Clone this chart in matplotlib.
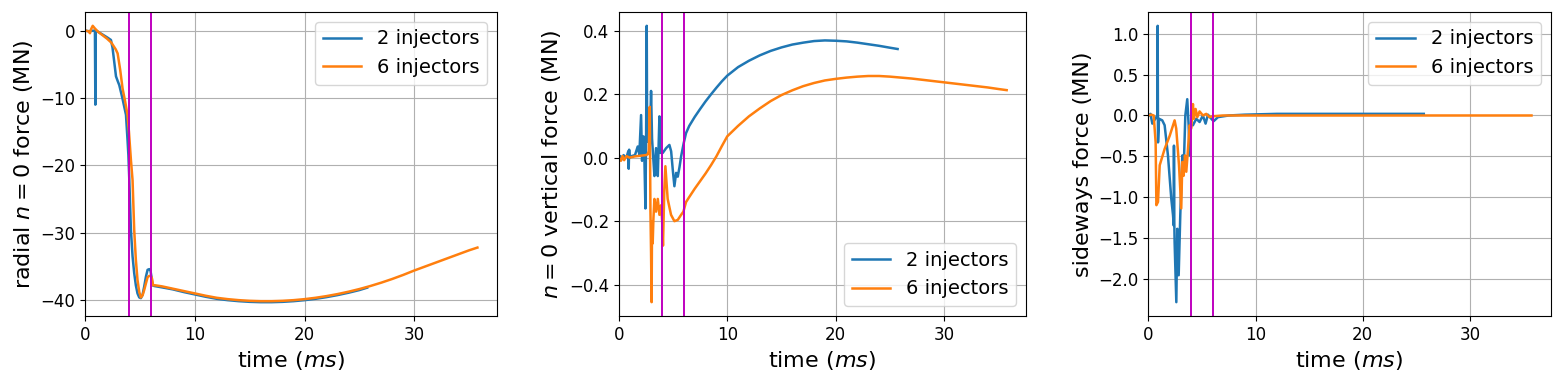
import numpy as np
import matplotlib
matplotlib.use("Agg")
import matplotlib.pyplot as plt
from matplotlib.ticker import MultipleLocator

# Values (time in ms, force in MN)

# radial n=0 force
t_rad_2 = [0, 0.3, 0.6, 0.9, 0.94, 0.98, 1.2, 1.6, 2.0, 2.36, 2.5, 2.65, 2.82, 3.0,
           3.12, 3.4, 3.73, 3.87, 3.95, 4.03, 4.18, 4.33, 4.48, 4.63, 4.78, 4.94,
           5.09, 5.24, 5.39, 5.55, 5.7, 5.85, 5.95, 6.05, 6.15, 6.3, 7, 8, 9, 10,
           11, 12, 13, 14, 15, 16, 17, 18, 19, 20, 21, 22, 23, 24, 25, 25.7]
f_rad_2 = [0, -0.1, -0.05, 0, -11.0, 0, -0.2, -0.6, -1.0, -1.4, -2.5, -4.5, -6.8,
           -7.6, -8.1, -10, -12.5, -16.2, -18.5, -22, -29.6, -33.5, -36, -37.8, -39,
           -39.6, -39.7, -39.2, -38, -36.5, -35.5, -35.4, -35.5, -36.5, -37.8,
           -37.9, -38.1, -38.4, -38.8, -39.15, -39.5, -39.8, -40.0, -40.15, -40.25,
           -40.3, -40.3, -40.25, -40.15, -40.0, -39.8, -39.55, -39.25, -38.9,
           -38.5, -38.15]
t_rad_6 = [0, 0.3, 0.45, 0.55, 0.7, 0.9, 1.2, 1.6, 2.0, 2.4, 2.8, 2.97, 3.2, 3.42,
           3.65, 3.87, 4.0, 4.18, 4.33, 4.48, 4.63, 4.78, 4.94, 5.09, 5.24, 5.39,
           5.55, 5.7, 5.85, 6.0, 6.1, 6.2, 6.4, 7, 8, 9, 10, 11, 12, 13, 14, 15,
           16, 17, 18, 19, 20, 21, 22, 23, 24, 25, 26, 27, 28, 29, 30, 31, 32, 33,
           34, 35, 35.75]
f_rad_6 = [0, -0.1, -0.4, 0.2, 0.7, 0.3, -0.2, -0.7, -1.2, -1.8, -2.8, -3.4, -5.8,
           -8.6, -10.5, -12.5, -15, -19.2, -22.2, -29.6, -34, -37, -38.8, -39.6,
           -39.3, -38.5, -37.5, -36.6, -36.4, -36.4, -36.8, -37.8, -37.8, -37.95,
           -38.3, -38.65, -39.0, -39.35, -39.65, -39.85, -40.0, -40.1, -40.15,
           -40.15, -40.1, -40.0, -39.85, -39.65, -39.4, -39.1, -38.75, -38.35,
           -37.9, -37.4, -36.85, -36.25, -35.6, -35.0, -34.4, -33.8, -33.2, -32.6,
           -32.2]

# n=0 vertical force
t_ver_2 = [0, 0.15, 0.3, 0.45, 0.6, 0.75, 0.88, 0.92, 0.96, 1.0, 1.2, 1.5, 1.75,
           1.9, 2.06, 2.15, 2.28, 2.37, 2.46, 2.52, 2.58, 2.62, 2.67, 2.77, 2.85,
           2.98, 3.07, 3.18, 3.29, 3.44, 3.6, 3.75, 3.85, 4.06, 4.37, 4.67, 4.83,
           4.98, 5.13, 5.29, 5.44, 5.6, 5.75, 5.99, 6.2, 6.5, 7.0, 7.5, 8.0, 8.5,
           9.0, 9.5, 10, 11, 12, 13, 14, 15, 16, 17, 18, 19, 20, 21, 22, 23, 24,
           25, 25.7]
f_ver_2 = [0, 0.005, -0.005, 0.008, 0, 0.005, 0.02, -0.035, 0.025, 0.0, 0.005,
           0.008, 0.035, 0.01, 0.134, -0.01, 0.067, -0.01, -0.16, 0.05, 0.415, 0.05,
           0.05, 0.13, 0.02, 0.21, 0.06, 0.0, -0.058, 0.03, -0.058, 0.13, 0.015,
           0.015, 0.03, 0.04, 0.02, -0.038, -0.09, -0.048, -0.06, -0.03, 0.004,
           0.046, 0.077, 0.1, 0.128, 0.153, 0.177, 0.199, 0.22, 0.24, 0.258, 0.285,
           0.305, 0.322, 0.336, 0.347, 0.356, 0.362, 0.367, 0.369, 0.368, 0.366,
           0.362, 0.357, 0.352, 0.346, 0.342]
t_ver_6 = [0, 0.2, 0.35, 0.5, 0.7, 1.0, 1.5, 2.0, 2.5, 2.65, 2.77, 2.86, 2.92,
           2.98, 3.03, 3.07, 3.13, 3.2, 3.29, 3.44, 3.6, 3.75, 3.9, 4.0, 4.08, 4.2,
           4.3, 4.51, 4.82, 5.13, 5.44, 5.75, 5.96, 6.2, 6.5, 7.0, 7.5, 8.0, 8.5,
           9.0, 9.5, 10, 11, 12, 13, 14, 15, 16, 17, 18, 19, 20, 21, 22, 23, 24,
           25, 26, 27, 28, 29, 30, 31, 32, 33, 34, 35, 35.75]
f_ver_6 = [0, -0.01, 0.005, -0.008, 0.005, 0.0, 0.004, 0.006, 0.008, 0.01, 0.02,
           0.16, -0.16, -0.3, -0.455, -0.2, -0.27, -0.19, -0.13, -0.17, -0.13,
           -0.18, -0.15, -0.2, -0.277, -0.1, -0.027, -0.13, -0.18, -0.2, -0.196,
           -0.18, -0.17, -0.14, -0.124, -0.098, -0.074, -0.05, -0.024, 0.004,
           0.036, 0.067, 0.1, 0.13, 0.155, 0.178, 0.197, 0.212, 0.225, 0.235,
           0.243, 0.248, 0.252, 0.255, 0.257, 0.257, 0.255, 0.252, 0.249, 0.245,
           0.241, 0.237, 0.233, 0.229, 0.225, 0.221, 0.216, 0.2125]

# sideways force
t_side_2 = [0, 0.06, 0.2, 0.37, 0.6, 0.84, 0.87, 0.9, 1.0, 1.3, 1.52, 1.83, 2.14,
            2.3, 2.37, 2.39, 2.42, 2.45, 2.61, 2.7, 2.83, 2.98, 3.17, 3.29, 3.45,
            3.63, 3.76, 3.85, 3.94, 4.16, 4.47, 4.78, 5.09, 5.34, 5.56, 5.87, 6.09,
            6.5, 7.5, 9, 12, 15, 20, 25.7]
f_side_2 = [0, 0, 0.02, -0.1, -0.05, 0.0, 1.1, -0.33, -0.04, -0.06, -0.12, -0.49,
            -1.02, -1.22, -1.35, -0.37, -1.3, -1.55, -2.29, -1.39, -1.96, -1.22,
            -0.49, -0.69, 0.0, 0.2, -0.12, -0.49, -0.12, -0.12, -0.04, -0.08, 0.0,
            -0.1, 0.01, -0.04, -0.07, -0.02, 0.0, 0.01, 0.02, 0.02, 0.02, 0.02]
t_side_6 = [0, 0.28, 0.5, 0.68, 0.75, 0.9, 1.06, 1.52, 1.99, 2.45, 2.6, 2.86, 3.07,
            3.17, 3.29, 3.42, 3.54, 3.7, 3.85, 4.0, 4.16, 4.25, 4.41, 4.57, 4.78,
            5.09, 5.4, 5.71, 6.0, 6.96, 10, 20, 30, 35.75]
f_side_6 = [0, 0.01, 0, -0.33, -1.1, -1.06, -0.61, -0.41, -0.25, -0.06, -0.16,
            -0.61, -1.14, -0.57, -0.74, -0.49, -0.69, -0.41, -0.12, -0.16, 0.14,
            -0.04, 0.08, -0.02, 0.05, 0, 0.02, -0.02, -0.01, 0, 0, 0, 0, 0]

# times of the two marker lines
t_marks = [4, 6]

panels = [
    (t_rad_2, f_rad_2, t_rad_6, f_rad_6, 'radial $n=0$ force (MN)', 'upper right'),
    (t_ver_2, f_ver_2, t_ver_6, f_ver_6, '$n=0$ vertical force (MN)', 'lower right'),
    (t_side_2, f_side_2, t_side_6, f_side_6, 'sideways force (MN)', 'upper right'),
]

fig = plt.figure(figsize=(15.66, 3.82), dpi=100)
rects = [[0.0543, 0.1728, 0.2631, 0.7958],
         [0.3951, 0.1728, 0.2601, 0.7958],
         [0.7333, 0.1728, 0.2569, 0.7958]]

for rect, (ta, fa, tb, fb, ylab, loc) in zip(rects, panels):
    ax = fig.add_axes(rect)
    ax.plot(ta, fa, lw=1.8, label='2 injectors')
    ax.plot(tb, fb, lw=1.8, label='6 injectors')
    for tm in t_marks:
        ax.axvline(tm, color='m', lw=1.4)
    ax.set_xlim(left=0)
    ax.xaxis.set_major_locator(MultipleLocator(10))
    ax.grid(True)
    ax.set_xlabel('time ($ms$)', fontsize=16)
    ax.set_ylabel(ylab, fontsize=16)
    ax.tick_params(labelsize=12)
    ax.legend(loc=loc, fontsize=14)

plt.savefig('out.png', dpi=100)
